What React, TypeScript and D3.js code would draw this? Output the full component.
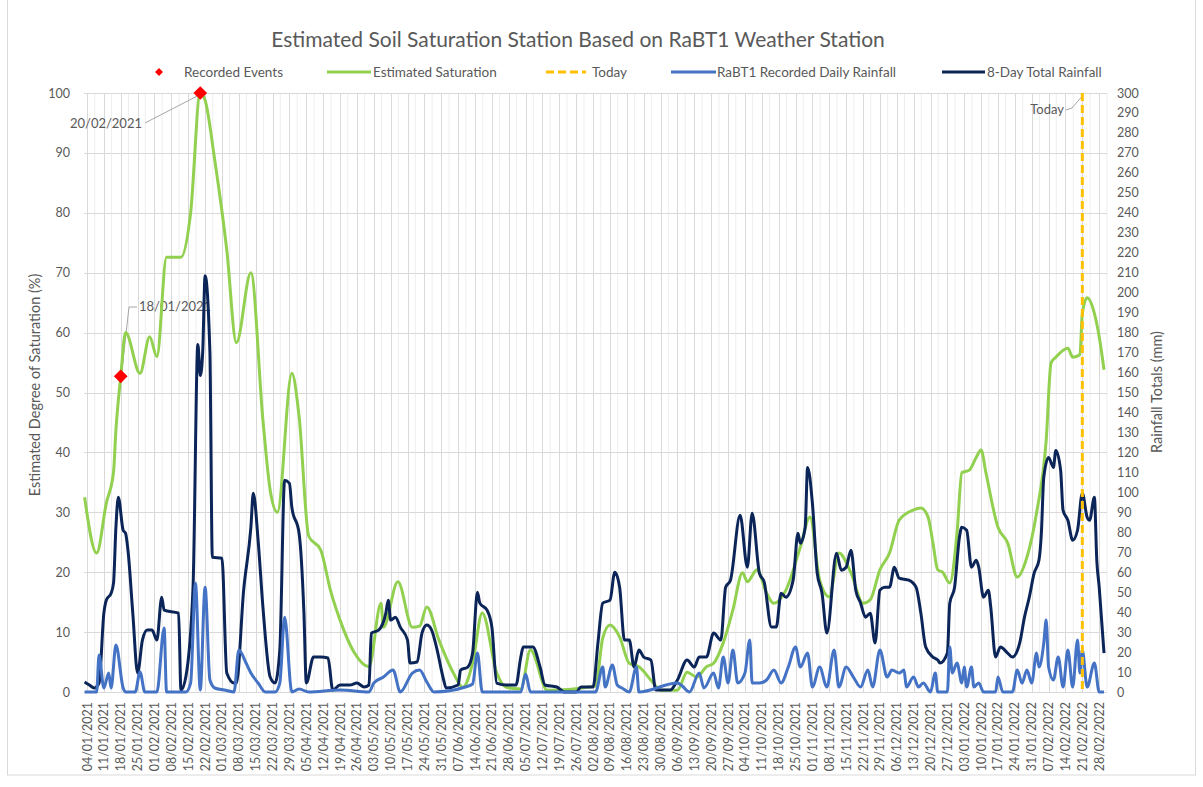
import React from 'react';
import * as d3 from 'd3';

const START = new Date(2021, 0, 4);
const END = new Date(2022, 1, 28);
const TODAY = new Date(2022, 1, 21);

// [days after 04/01/2021, degree of saturation %]
const saturation: [number, number][] = [
  [-1, 32.5], [4, 23.2], [8, 31.5], [11, 36.7], [12, 43.7], [14, 52.7], [16, 60], [22, 53.2], [26, 59.3],
  [29, 56], [33, 72.6], [39, 72.6], [43, 80], [47, 100], [49, 98.8], [53, 88.8], [58, 73.8], [62, 58.3],
  [68, 70], [73, 45.4], [76, 33.7], [79, 30], [85, 53.2], [88, 46], [92, 26], [97, 23.7], [101, 17],
  [105, 12], [111, 6.5], [117, 4.2], [122, 14.8], [123, 10.8], [129, 18.4], [135, 10.8], [138, 11],
  [141, 14.2], [146, 8.7], [152, 3.2], [156, 0.8], [160, 4.8], [164, 13.2], [170, 3.2], [174, 0.8],
  [180, 0.5], [184, 7], [191, 0.3], [211, 1], [214, 9], [217, 11.2], [221, 9.2], [225, 4.8], [229, 4.2],
  [235, 1.5], [238, 0.3], [245, 0.3], [249, 3.3], [253, 2.5], [257, 4.2], [260, 4.8], [264, 8.2],
  [268, 13.7], [272, 19.9], [274, 18.4], [278, 20.4], [282, 16.5], [285, 14.8], [290, 17], [296, 24.2],
  [300, 29.2], [304, 18.7], [308, 15.9], [312, 23.2], [317, 19.9], [322, 14.8], [325, 15.4], [329, 20.4],
  [333, 23.2], [337, 28.7], [343, 30.4], [346, 30.7], [349, 29.2], [351, 24.9], [353, 20.4], [355, 20],
  [358, 18.2], [361, 26.5], [363, 36.6], [366, 37], [369, 39.2], [371, 40.4], [373, 36.6], [378, 27.5],
  [382, 24.9], [386, 19.2], [390, 22.5], [394, 29.9], [398, 42], [400, 54.9], [402, 55.9], [407, 57.4],
  [409, 55.9], [412, 56.3], [413, 63.2], [415, 65.8], [418, 63.2], [420, 59.3], [422, 53.8],
];

// [days after 04/01/2021, mm]
const dailyRainfall: [number, number][] = [
  [-1, 0], [4, 0], [5, 18.5], [7, 2], [9, 9.5], [10, 2], [12, 23.5], [15, 2], [16, 0], [20, 0], [22, 10],
  [24, 0], [29, 0], [32, 32], [33, 0], [41, 0], [43, 4.5], [45, 54.5], [47, 1], [49, 52.5], [51, 6],
  [53, 2], [57, 1], [61, 0], [63, 21], [66, 14.5], [68, 9.5], [71, 4.5], [74, 0], [78, 0], [80, 4.5],
  [82, 37.5], [85, 0], [88, 1.5], [92, 0], [105, 1], [117, 0], [119, 4.5], [123, 7.5], [127, 11],
  [130, 0], [135, 9.5], [138, 11], [141, 5], [144, 0], [157, 2.5], [160, 4], [162, 19.5], [164, 0],
  [180, 0], [182, 9], [184, 0], [211, 0], [214, 12.5], [215, 2.5], [218, 13.5], [220, 3.5], [222, 2],
  [225, 0], [228, 12.5], [229, 0], [245, 4.5], [247, 3], [250, 0], [254, 9.5], [256, 2], [260, 9.5],
  [262, 2], [264, 17.5], [266, 4.5], [268, 21], [270, 4.5], [273, 9.5], [275, 26], [276, 4.5], [279, 4.5],
  [282, 6], [285, 11], [288, 4.5], [291, 12.5], [294, 22.5], [296, 12.5], [299, 19.5], [301, 2.5],
  [304, 12.5], [307, 2.5], [310, 21], [312, 2.5], [315, 12.5], [318, 7.5], [321, 2.5], [324, 11],
  [326, 2.5], [329, 21], [332, 7.5], [334, 11], [337, 9.5], [339, 11], [340, 2.5], [343, 7.5], [345, 2.5],
  [347, 4.5], [350, 0], [352, 9.5], [353, 0], [357, 0], [358, 22.5], [359, 9.5], [361, 14.5], [363, 4.5],
  [364, 12.5], [365, 2.5], [367, 12.5], [368, 2.5], [370, 4.5], [372, 0], [377, 0], [378, 7.5], [380, 0],
  [384, 0], [386, 11], [388, 4.5], [390, 11], [392, 4.5], [394, 19.5], [395, 12.5], [397, 24.5], [398, 36],
  [399, 12.5], [401, 6], [403, 17.5], [405, 2.5], [407, 21], [409, 2.5], [411, 26], [412, 9.5], [413, 21],
  [415, 2.5], [418, 14.5], [420, 0], [422, 0],
];

// [days after 04/01/2021, mm]
const eightDayRainfall: [number, number][] = [
  [-1, 5], [1, 3.5], [3, 2], [5, 4.5], [7, 39.5], [8, 46], [10, 49.5], [11, 54.5], [12, 82.5], [13, 97.5],
  [15, 81], [16, 79.5], [17, 71], [19, 39.5], [21, 9.5], [23, 26], [25, 31], [27, 31], [29, 26], [31, 47.5],
  [32, 41], [38, 39.5], [39, 1], [41, 7.5], [44, 52.5], [46, 174], [47, 158.5], [48, 170], [49, 208.5],
  [51, 170], [52, 67.5], [56, 67], [58, 9.5], [61, 4.5], [62, 4.5], [65, 51], [68, 82.5], [69, 99.5],
  [71, 76], [73, 42.5], [76, 7.5], [78, 4.5], [80, 21], [82, 106], [84, 104.5], [85, 92.5], [88, 79.5],
  [90, 40], [91, 4.5], [94, 17.5], [97, 17.5], [100, 17], [102, 1], [105, 3.5], [109, 3.5], [112, 4.5],
  [115, 2.5], [117, 3.5], [118, 29.5], [121, 31], [124, 39.5], [125, 46], [126, 36], [128, 37.5],
  [130, 32.5], [133, 26], [134, 14.5], [137, 15], [139, 29.5], [141, 33.5], [143, 31], [145, 22.5],
  [148, 6], [149, 2], [154, 3.5], [155, 11], [158, 12.5], [160, 19.5], [162, 50], [163, 44.5], [166, 41],
  [168, 32.5], [170, 4.5], [174, 3.5], [178, 3.5], [180, 17.5], [181, 22.5], [185, 22.5], [188, 12.5],
  [190, 3.5], [195, 2.5], [198, 0], [203, 0], [205, 2.5], [210, 2.5], [212, 24.5], [214, 44.5], [217, 46],
  [219, 60], [221, 52.5], [223, 26], [225, 26], [227, 12.5], [229, 21], [231, 17.5], [234, 16], [236, 1],
  [242, 1], [245, 6], [249, 16], [252, 12.5], [254, 17.5], [257, 17.5], [260, 29.5], [263, 26], [265, 52.5],
  [267, 56], [271, 88.5], [274, 62.5], [276, 89.5], [279, 59.5], [281, 55], [284, 32.5], [286, 32.5],
  [288, 49.5], [290, 47.5], [293, 56], [295, 79.5], [296, 74.5], [298, 82.5], [299, 112.5], [301, 94.5],
  [303, 59.5], [305, 49.5], [307, 29.5], [311, 69.5], [313, 61], [315, 62.5], [317, 71], [319, 51],
  [321, 44.5], [323, 37.5], [325, 39.5], [327, 24.5], [329, 51], [331, 52.5], [333, 52.5], [335, 62.5],
  [337, 57], [341, 56], [344, 52.5], [346, 39.5], [348, 22.5], [351, 17.5], [353, 16], [354, 14.5],
  [357, 19.5], [358, 44.5], [360, 52.5], [362, 77.5], [363, 82.5], [365, 81], [367, 62.5], [369, 66],
  [370, 62.5], [372, 47.5], [374, 51], [375, 42.5], [377, 17.5], [379, 22.5], [382, 19.5], [384, 17.5],
  [387, 24.5], [389, 37.5], [391, 47.5], [393, 59.5], [395, 66], [396, 79.5], [397, 107.5], [399, 117.5],
  [401, 112.5], [402, 121], [404, 111], [405, 91], [407, 86], [409, 76], [411, 81], [413, 99.5], [415, 87.5],
  [416, 86], [418, 97.5], [419, 66], [420, 52.5], [422, 19.5],
];

const eventDays = [14, 47];
const eventValues = [52.7, 100];

const leftTicks = d3.range(0, 101, 10);
const rightTicks = d3.range(0, 301, 10);

const FONT = 'Lato, "Open Sans", sans-serif';
const GREY = '#595959';
const GREEN = '#92D050';
const BLUE = '#4472C4';
const NAVY = '#0C2558';
const GOLD = '#FFC000';

const PLOT = { left: 84, right: 1107, top: 93, bottom: 692 };

const App: React.FC = () => {
  const x = d3.scaleTime().domain([START, END]).range([87, 1099.2]);
  const yL = d3.scaleLinear().domain([0, 100]).range([PLOT.bottom, PLOT.top]);
  const yR = d3.scaleLinear().domain([0, 300]).range([PLOT.bottom, PLOT.top]);
  const day = (d: number) => d3.timeDay.offset(START, d);

  const satLine = d3
    .line<[number, number]>()
    .x((p) => x(day(p[0])))
    .y((p) => yL(p[1]))
    .curve(d3.curveMonotoneX);
  const rainLine = d3
    .line<[number, number]>()
    .x((p) => x(day(p[0])))
    .y((p) => yR(p[1]))
    .curve(d3.curveMonotoneX);

  const weeks = d3.timeMonday.range(START, d3.timeDay.offset(END, 1));
  const fmt = d3.timeFormat('%d/%m/%Y');
  const diamond = d3.symbol(d3.symbolDiamond2, 120)();
  const smallDiamond = d3.symbol(d3.symbolDiamond2, 40)();

  const tx = x(TODAY);
  const e0 = { x: x(day(eventDays[0])), y: yL(eventValues[0]) };
  const e1 = { x: x(day(eventDays[1])), y: yL(eventValues[1]) };

  return (
    <svg
      width={1203}
      height={787}
      style={{ position: 'absolute', left: 0, top: 0, background: '#fff' }}
      fontFamily={FONT}
    >
      <rect x={7.5} y={-1} width={1188} height={776} fill="#fff" stroke="#d9d9d9" />

      <text x={578} y={47} textAnchor="middle" fontSize={21} fill={GREY}>
        Estimated Soil Saturation Station Based on RaBT1 Weather Station
      </text>

      {/* legend */}
      <g fontSize={13.5} fill={GREY}>
        <path d={smallDiamond} transform="translate(159,72)" fill="#FF0000" />
        <text x={184} y={76.5}>Recorded Events</text>
        <line x1={327} x2={371} y1={72} y2={72} stroke={GREEN} strokeWidth={3} />
        <text x={373} y={76.5}>Estimated Saturation</text>
        <line x1={546} x2={586} y1={72} y2={72} stroke={GOLD} strokeWidth={3} strokeDasharray="8 4" />
        <text x={592} y={76.5}>Today</text>
        <line x1={671} x2={716} y1={72} y2={72} stroke={BLUE} strokeWidth={3} />
        <text x={717} y={76.5}>RaBT1 Recorded Daily Rainfall</text>
        <line x1={942} x2={985} y1={72} y2={72} stroke={NAVY} strokeWidth={3} />
        <text x={987} y={76.5}>8-Day Total Rainfall</text>
      </g>

      {/* grid */}
      <g>
        {weeks.map((w, i) => (
          <line
            key={'m' + i}
            x1={x(d3.timeDay.offset(w, 3)) + 0.5}
            x2={x(d3.timeDay.offset(w, 3)) + 0.5}
            y1={PLOT.top}
            y2={PLOT.bottom}
            stroke="#eeeeee"
          />
        ))}
        {weeks.map((w, i) => (
          <line
            key={'w' + i}
            x1={Math.round(x(w)) + 0.5}
            x2={Math.round(x(w)) + 0.5}
            y1={PLOT.top}
            y2={PLOT.bottom}
            stroke="#d9d9d9"
          />
        ))}
        {leftTicks.map((t) => (
          <line
            key={'h' + t}
            x1={PLOT.left}
            x2={PLOT.right}
            y1={Math.round(yL(t)) + 0.5}
            y2={Math.round(yL(t)) + 0.5}
            stroke="#d9d9d9"
          />
        ))}
      </g>

      {/* axes labels */}
      <g fontSize={12.5} fill={GREY}>
        {leftTicks.map((t) => (
          <text key={'l' + t} x={70} y={yL(t) + 4.5} textAnchor="end">
            {t}
          </text>
        ))}
        {rightTicks.map((t) => (
          <text key={'r' + t} x={1117} y={yR(t) + 4.5}>
            {t}
          </text>
        ))}
        {weeks.map((w, i) => (
          <text
            key={'x' + i}
            transform={`translate(${x(w) + 4.5},702) rotate(-90)`}
            textAnchor="end"
          >
            {fmt(w)}
          </text>
        ))}
      </g>
      <text
        transform="translate(40,385) rotate(-90)"
        textAnchor="middle"
        fontSize={14.5}
        fill={GREY}
      >
        Estimated Degree of Saturation (%)
      </text>
      <text
        transform="translate(1162,392) rotate(-90)"
        textAnchor="middle"
        fontSize={14.5}
        fill={GREY}
      >
        Rainfall Totals (mm)
      </text>

      {/* annotations (sit under the series, as in the original) */}
      <g fontSize={13} fill={GREY}>
        <text x={142} y={128} textAnchor="end">20/02/2021</text>
        <polyline points={`145,123 ${e1.x - 3},${e1.y + 3}`} fill="none" stroke="#a6a6a6" />
        <text x={139} y={311}>18/01/2021</text>
        <polyline points={`137,307 129,307 ${e0.x + 1},${e0.y - 4}`} fill="none" stroke="#a6a6a6" />
        <text x={1064} y={114} textAnchor="end">Today</text>
        <polyline points={`1066,110 1072,108 ${tx},96`} fill="none" stroke="#a6a6a6" />
      </g>

      {/* series */}
      <path d={satLine(saturation) || ''} fill="none" stroke={GREEN} strokeWidth={3} strokeLinejoin="round" />
      <path d={rainLine(eightDayRainfall) || ''} fill="none" stroke={NAVY} strokeWidth={3} strokeLinejoin="round" />
      <path d={rainLine(dailyRainfall) || ''} fill="none" stroke={BLUE} strokeWidth={3} strokeLinejoin="round" />

      <line x1={tx} x2={tx} y1={PLOT.top} y2={PLOT.bottom} stroke={GOLD} strokeWidth={3} strokeDasharray="8 4" />

      {eventDays.map((d, i) => (
        <path
          key={'e' + i}
          d={diamond || ''}
          transform={`translate(${x(day(d))},${yL(eventValues[i])})`}
          fill="#FF0000"
        />
      ))}
    </svg>
  );
};

export default App;
